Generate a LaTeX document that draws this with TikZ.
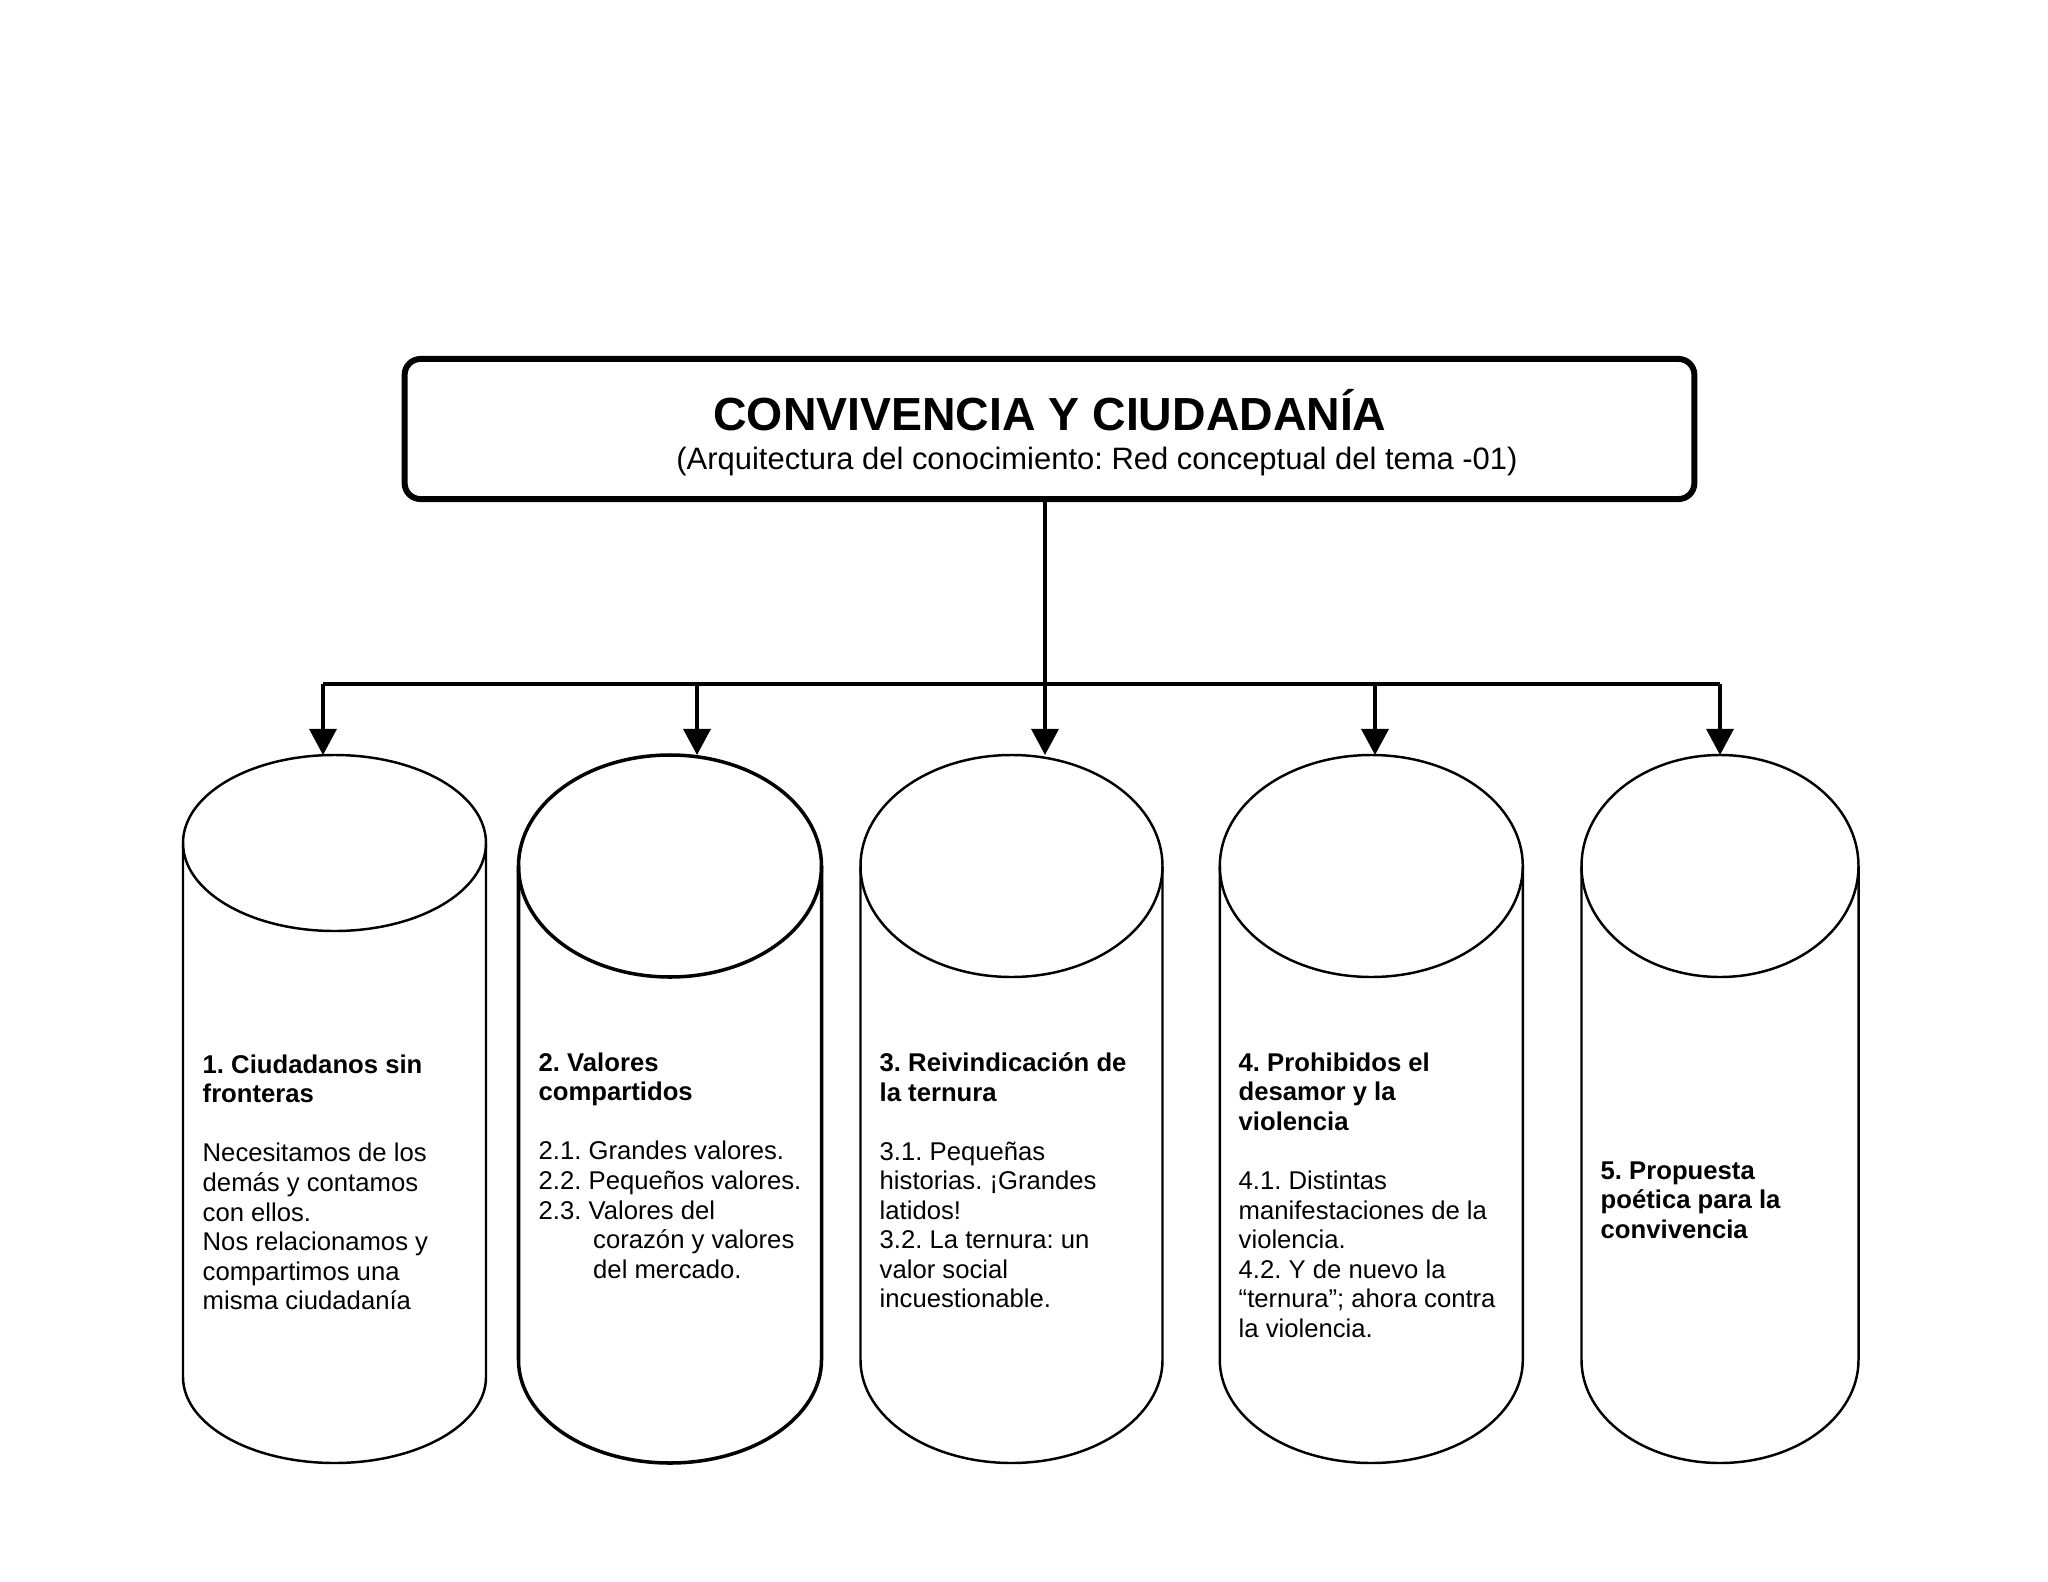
\documentclass[tikz,border=0pt]{standalone}
\usepackage{fontspec}
\setmainfont{Liberation Sans}
\frenchspacing
\usetikzlibrary{arrows.meta}

\begin{document}
\begin{tikzpicture}[x=0.01cm, y=0.01cm,
  caja/.style={draw, rectangle, rounded corners=4.5pt, line width=1.7pt,
               minimum width=12.89cm, minimum height=1.40cm},
  cil/.style={line width=0.7pt},
  txt/.style={anchor=north west, inner sep=0pt, align=left,
              font=\fontsize{7.3}{8.4}\selectfont},
  linea/.style={line width=0.9pt},
  >={Triangle[width=2.7mm,length=2.6mm]}
]
\useasboundingbox[fill=white] (0,0) rectangle (2048,-1582);

%% ── Titulo ──────────────────────────────────────────────────
\node[caja] (caja) at (1049.5,-429) {};
\node[anchor=base, inner sep=0pt, font=\fontsize{13.2}{15}\selectfont\bfseries]
  (tit) at (1050,-430) {CONVIVENCIA Y CIUDADANÍA};
\node[anchor=base, inner sep=0pt, font=\fontsize{8.8}{10}\selectfont]
  (sub) at (1097,-469) {(Arquitectura del conocimiento: Red conceptual del tema -01)};

%% ── Conectores ──────────────────────────────────────────────
\coordinate (b1) at (323,-684);  \coordinate (p1) at (323,-755);
\coordinate (b2) at (697,-684);  \coordinate (p2) at (697,-755);
\coordinate (b3) at (1045,-684); \coordinate (p3) at (1045,-755);
\coordinate (b4) at (1375,-684); \coordinate (p4) at (1375,-755);
\coordinate (b5) at (1720,-684); \coordinate (p5) at (1720,-755);
\draw[linea] (b1) -- (b5);
\draw[linea, ->] (caja.south -| p3) -- (p3);
\foreach \i in {1,2,4,5} \draw[linea, ->] (b\i) -- (p\i);

%% ── Cilindros ───────────────────────────────────────────────
\foreach \n/\cx/\rx/\cy/\ry/\sb/\rb/\lw in {1/334.5/151.5/843/88/1377/86/0.7pt,
    2/670/151.5/866/111/1360/103/1pt, 3/1011.5/151/866/111/1360/103/0.7pt,
    4/1371.3/151.5/866/111/1360/103/0.7pt, 5/1720/138.5/866/111/1360/103/0.7pt}{
  \draw[cil, line width=\lw] (\cx,-\cy) ellipse [x radius=\rx, y radius=\ry];
  \draw[cil, line width=\lw] (\cx-\rx,-\cy) -- (\cx-\rx,-\sb)
    arc[start angle=180, end angle=360, x radius=\rx, y radius=\rb] -- (\cx+\rx,-\cy);
}

%% ── Textos ──────────────────────────────────────────────────
\node[txt] (t1) at (202,-1054) {\textbf{1. Ciudadanos sin}\\ \textbf{fronteras}\\[8.4pt]
  Necesitamos de los\\ demás y contamos\\ con ellos.\\ Nos relacionamos y\\
  compartimos una\\ misma ciudadanía};
\node[txt] (t2) at (538,-1052) {\textbf{2. Valores}\\ \textbf{compartidos}\\[8.4pt]
  2.1. Grandes valores.\\ 2.2. Pequeños valores.\\ 2.3. Valores del\\
  \hspace*{15.5pt}corazón y valores\\ \hspace*{15.5pt}del mercado.};
\node[txt] (t3) at (879,-1052) {\textbf{3. Reivindicación de}\\ \textbf{la ternura}\\[8.4pt]
  3.1. Pequeñas\\ historias. ¡Grandes\\ latidos!\\ 3.2. La ternura: un\\
  valor social\\ incuestionable.};
\node[txt] (t4) at (1238,-1052) {\textbf{4. Prohibidos el}\\ \textbf{desamor y la}\\
  \textbf{violencia}\\[8.4pt] 4.1. Distintas\\ manifestaciones de la\\ violencia.\\
  4.2. Y de nuevo la\\ “ternura”; ahora contra\\ la violencia.};
\node[txt] (t5) at (1600,-1161) {\textbf{5. Propuesta}\\ \textbf{poética para la}\\
  \textbf{convivencia}};
\end{tikzpicture}
\end{document}
